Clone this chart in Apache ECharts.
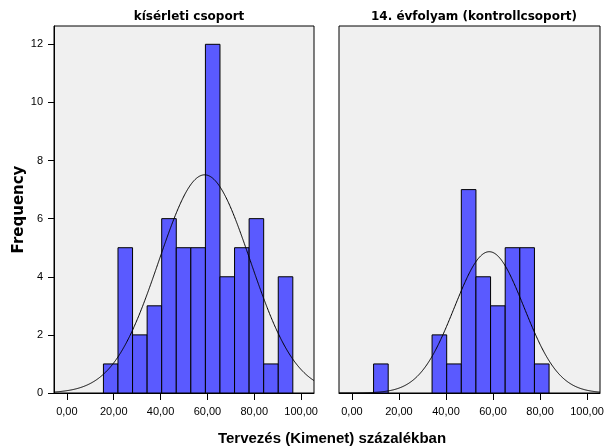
<!DOCTYPE html>
<html>
<head>
<meta charset="utf-8">
<script src="https://cdn.jsdelivr.net/npm/echarts@6/dist/echarts.min.js"></script>
<style>
  html, body { margin: 0; padding: 0; background: #fff; }
</style>
</head>
<body>
<div id="histChart" style="width:608px;height:448px"></div>
<script>
// panel titles
var panelTitles = ['kísérleti csoport', '14. évfolyam (kontrollcsoport)'];

// histogram bins: lower edge of first bin, bin width, counts per bin
var binStartA = 15.6;
var binWidthA = 6.22;
var countsA = [1, 5, 2, 3, 6, 5, 5, 12, 4, 5, 6, 1, 4];

var binStartB = 9.2;
var binWidthB = 6.22;
var countsB = [1, 0, 0, 0, 2, 1, 7, 4, 3, 5, 5, 1];

// fitted normal curve parameters
var meanA = 58.8, sdA = 19.5;
var meanB = 58.4, sdB = 14.8;

// tick labels
var xTicks = [0, 20, 40, 60, 80, 100];
var yTicks = [0, 2, 4, 6, 8, 10, 12];

function binData(start, width, counts) {
  return counts.map(function (c, i) {
    return [start + i * width, start + (i + 1) * width, c];
  }).filter(function (d) { return d[2] > 0; });
}

// normal density scaled to counts (n * binwidth * pdf)
function normalCurve(mean, sd, counts, width) {
  var n = counts.reduce(function (a, b) { return a + b; }, 0);
  var pts = [];
  for (var x = -5.5; x <= 105.5; x += 0.5) {
    var z = (x - mean) / sd;
    pts.push([x, n * width * Math.exp(-0.5 * z * z) / (sd * Math.sqrt(2 * Math.PI))]);
  }
  return pts;
}

function renderBar(params, api) {
  var p0 = api.coord([api.value(0), api.value(2)]);
  var p1 = api.coord([api.value(1), 0]);
  return {
    type: 'rect',
    shape: { x: p0[0], y: p0[1], width: p1[0] - p0[0], height: p1[1] - p0[1] },
    style: { fill: '#5a5aff', stroke: '#000', lineWidth: 1 }
  };
}

var labelFont = { fontFamily: 'Liberation Sans, Arial, sans-serif', fontSize: 11, color: '#000' };

function makeX(idx) {
  return {
    type: 'value', gridIndex: idx, min: -5.5, max: 105.5,
    axisLine: { show: true, onZero: false, lineStyle: { color: '#000', width: 1 } },
    axisTick: { show: true, length: 7, customValues: xTicks, lineStyle: { color: '#000' } },
    axisLabel: Object.assign({
      customValues: xTicks, margin: 13,
      formatter: function (v) { return v.toFixed(2).replace('.', ','); }
    }, labelFont),
    splitLine: { show: false }
  };
}

function makeY(idx) {
  return {
    type: 'value', gridIndex: idx, min: 0, max: 12.63,
    axisLine: { show: idx === 0, onZero: false, lineStyle: { color: '#000', width: 1 } },
    axisTick: { show: idx === 0, length: 6, customValues: yTicks, lineStyle: { color: '#000' } },
    axisLabel: Object.assign({ show: idx === 0, customValues: yTicks, margin: 11 }, labelFont),
    splitLine: { show: false },
    name: idx === 0 ? 'Frequency' : '',
    nameLocation: 'middle',
    nameGap: 27,
    nameTextStyle: { fontFamily: 'DejaVu Sans', fontSize: 15, fontWeight: 'bold', color: '#000' }
  };
}

var titleStyle = { fontFamily: 'DejaVu Sans', fontSize: 12, fontWeight: 'bold', color: '#000' };

var option = {
  animation: false,
  backgroundColor: '#fff',
  title: [
    { text: panelTitles[0], left: 184, top: 6, textAlign: 'center', textStyle: titleStyle },
    { text: panelTitles[1], left: 469, top: 6, textAlign: 'center', textStyle: titleStyle },
    { text: 'Tervezés (Kimenet) százalékban', left: 327, top: 426, textAlign: 'center',
      textStyle: { fontFamily: 'Liberation Sans, Arial, sans-serif', fontSize: 15, fontWeight: 'bold', color: '#000' } }
  ],
  grid: [
    { left: 54, top: 26, width: 260, height: 367, show: true, backgroundColor: '#f0f0f0', borderColor: '#000', borderWidth: 1 },
    { left: 339, top: 26, width: 261, height: 367, show: true, backgroundColor: '#f0f0f0', borderColor: '#000', borderWidth: 1 }
  ],
  xAxis: [makeX(0), makeX(1)],
  yAxis: [makeY(0), makeY(1)],
  series: [
    { type: 'custom', xAxisIndex: 0, yAxisIndex: 0, renderItem: renderBar,
      encode: { x: [0, 1], y: 2 }, data: binData(binStartA, binWidthA, countsA) },
    { type: 'custom', xAxisIndex: 1, yAxisIndex: 1, renderItem: renderBar,
      encode: { x: [0, 1], y: 2 }, data: binData(binStartB, binWidthB, countsB) },
    { type: 'line', xAxisIndex: 0, yAxisIndex: 0, showSymbol: false, smooth: true,
      lineStyle: { color: '#000', width: 1 }, data: normalCurve(meanA, sdA, countsA, binWidthA), z: 5 },
    { type: 'line', xAxisIndex: 1, yAxisIndex: 1, showSymbol: false, smooth: true,
      lineStyle: { color: '#000', width: 1 }, data: normalCurve(meanB, sdB, countsB, binWidthB), z: 5 }
  ]
};

var histChart = echarts.init(document.getElementById('histChart'));
histChart.setOption(option);
</script>
</body>
</html>
